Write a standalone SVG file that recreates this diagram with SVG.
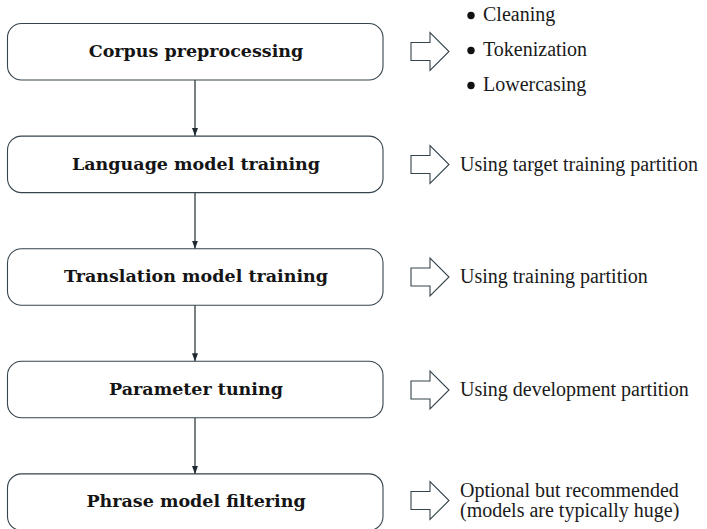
<svg xmlns="http://www.w3.org/2000/svg" width="707" height="529" viewBox="0 0 707 529">
  <defs>
    <style>
      .box { fill: #ffffff; stroke: #34444c; stroke-width: 1.1; }
      .label { font-family: "DejaVu Serif", "Liberation Serif", serif; font-weight: bold; font-size: 17.5px; fill: #151515; text-anchor: middle; }
      .note { font-family: "Liberation Serif", "DejaVu Serif", serif; font-size: 20px; fill: #1a1a1a; }
      .bigarrow { fill: #ffffff; stroke: #34444c; stroke-width: 1.1; stroke-linejoin: miter; }
      .edge { stroke: #1f2a30; stroke-width: 1.2; fill: none; marker-end: url(#tip); }
      .dot { fill: #111111; }
    </style>
    <marker id="tip" viewBox="0 0 8 8" refX="8" refY="4" markerWidth="8" markerHeight="8" markerUnits="userSpaceOnUse" orient="auto">
      <path d="M0,1 L8,4 L0,7 Z" fill="#1f2a30"/>
    </marker>
    <!-- hollow block arrow, centred on y = 0 -->
    <polygon id="block" points="0,-9 19,-9 19,-19 38,0 19,19 19,9 0,9"/>
  </defs>

  <!-- connectors between the steps -->
  <g id="connectors">
    <line class="edge" x1="195" y1="80" x2="195" y2="136.1"/>
    <line class="edge" x1="195" y1="192.6" x2="195" y2="248.7"/>
    <line class="edge" x1="195" y1="305.2" x2="195" y2="361.3"/>
    <line class="edge" x1="195" y1="417.8" x2="195" y2="473.9"/>
  </g>

  <g id="step1">
    <rect class="box" x="7.5" y="23.5" width="375.5" height="56.5" rx="14" ry="14"/>
    <text class="label" x="196" y="57">Corpus preprocessing</text>
  </g>
  <g id="note1">
    <use href="#block" class="bigarrow" x="411" y="51.5"/>
    <circle class="dot" cx="471" cy="15.5" r="3.7"/>
    <text class="note" x="483" y="20.5">Cleaning</text>
    <circle class="dot" cx="471" cy="50.5" r="3.7"/>
    <text class="note" x="483" y="55.5">Tokenization</text>
    <circle class="dot" cx="471" cy="85.5" r="3.7"/>
    <text class="note" x="483" y="90.5">Lowercasing</text>
  </g>

  <g id="step2">
    <rect class="box" x="7.5" y="136.1" width="375.5" height="56.5" rx="14" ry="14"/>
    <text class="label" x="196" y="169.5">Language model training</text>
  </g>
  <g id="note2">
    <use href="#block" class="bigarrow" x="411" y="164.5"/>
    <text class="note" x="460" y="170.5">Using target training partition</text>
  </g>

  <g id="step3">
    <rect class="box" x="7.5" y="248.7" width="375.5" height="56.5" rx="14" ry="14"/>
    <text class="label" x="196" y="282">Translation model training</text>
  </g>
  <g id="note3">
    <use href="#block" class="bigarrow" x="411" y="277"/>
    <text class="note" x="460" y="283">Using training partition</text>
  </g>

  <g id="step4">
    <rect class="box" x="7.5" y="361.3" width="375.5" height="56.5" rx="14" ry="14"/>
    <text class="label" x="196" y="394.5">Parameter tuning</text>
  </g>
  <g id="note4">
    <use href="#block" class="bigarrow" x="411" y="390"/>
    <text class="note" x="460" y="395.5">Using development partition</text>
  </g>

  <g id="step5">
    <rect class="box" x="7.5" y="473.9" width="375.5" height="56.5" rx="14" ry="14"/>
    <text class="label" x="196" y="507">Phrase model filtering</text>
  </g>
  <g id="note5">
    <use href="#block" class="bigarrow" x="411" y="500.5"/>
    <text class="note" x="460" y="496.5">Optional but recommended</text>
    <text class="note" x="460" y="516.5">(models are typically huge)</text>
  </g>
</svg>
